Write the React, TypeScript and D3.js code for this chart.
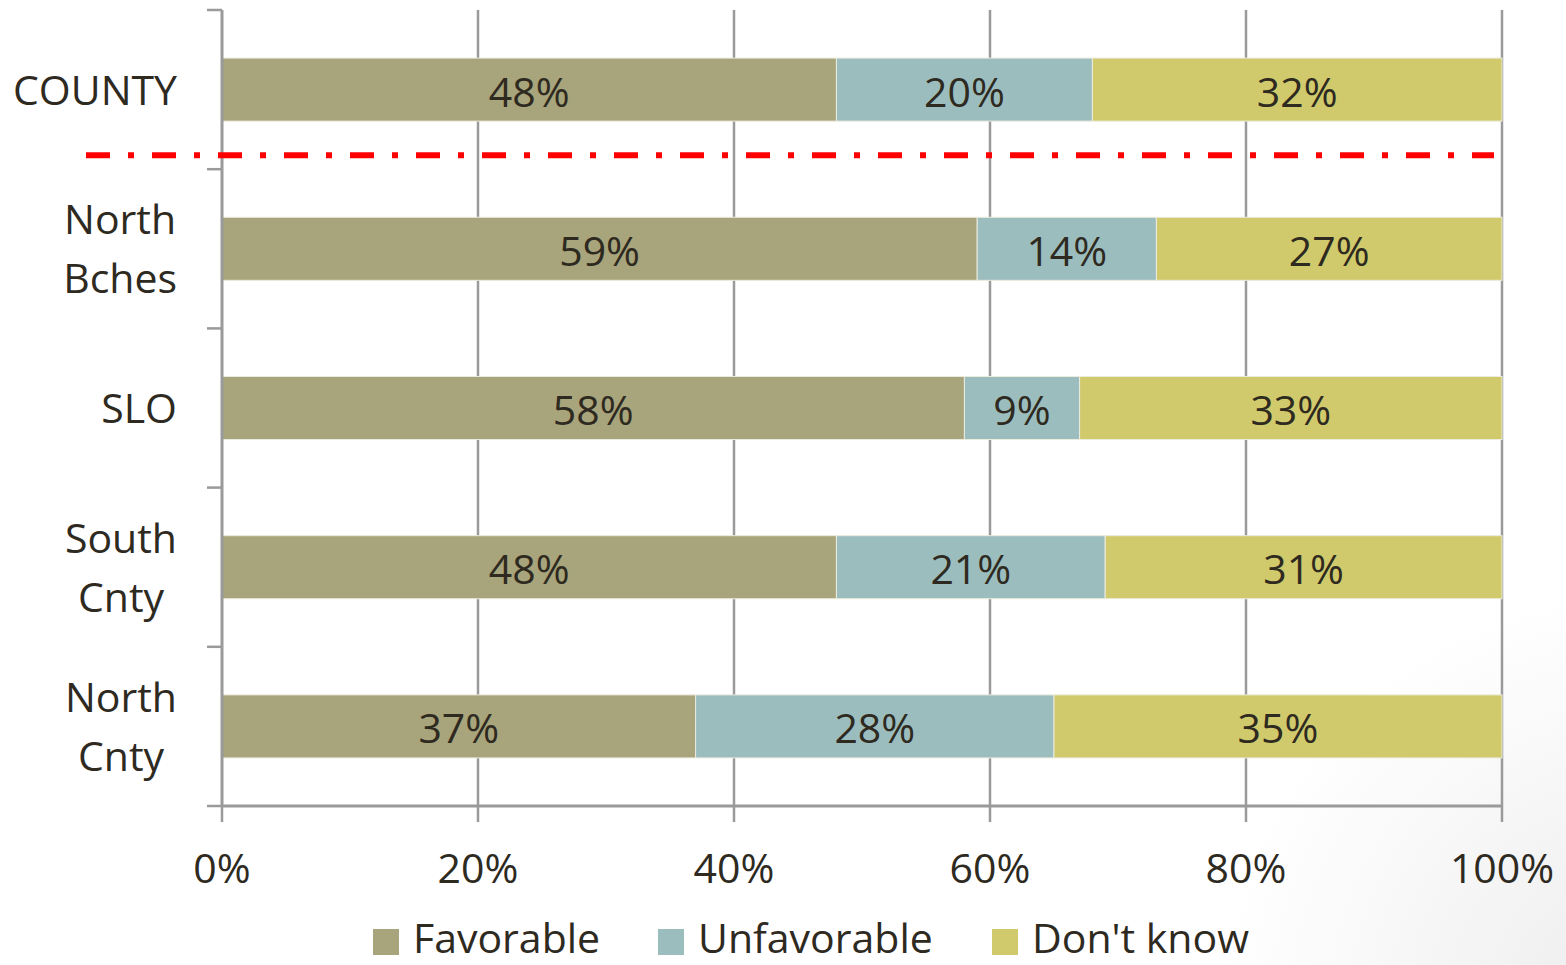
import React, { useEffect, useRef } from "react";
import * as d3 from "d3";

const categories = ["COUNTY", "North\nBches", "SLO", "South\nCnty", "North\nCnty"];
const seriesNames = ["Favorable", "Unfavorable", "Don't know"];
const favorable = [48, 59, 58, 48, 37];
const unfavorable = [20, 14, 9, 21, 28];
const dontKnow = [32, 27, 33, 31, 35];
const xTicks = [0, 20, 40, 60, 80, 100];
const colors = ["#a8a47b", "#9cbdbd", "#d1ca6c"];

const W = 1566;
const H = 965;
const FONT = "'Open Sans', 'Noto Sans', sans-serif";
const TEXT = "#2e2a1f";
const GRID = "#9a9a9a";

export default function App() {
  const ref = useRef<SVGSVGElement | null>(null);

  useEffect(() => {
    document.body.style.margin = "0";
    const svg = d3.select(ref.current);
    svg.selectAll("*").remove();

    const defs = svg.append("defs");
    const rg = defs
      .append("radialGradient")
      .attr("id", "bg")
      .attr("gradientUnits", "userSpaceOnUse")
      .attr("cx", 1640)
      .attr("cy", 1010)
      .attr("r", 420);
    rg.append("stop").attr("offset", "0%").attr("stop-color", "#ececec");
    rg.append("stop").attr("offset", "100%").attr("stop-color", "#ffffff");
    svg.append("rect").attr("width", W).attr("height", H).attr("fill", "url(#bg)");

    const x = d3.scaleLinear().domain([0, 100]).range([222, 1502]);
    const y = d3
      .scaleBand<string>()
      .domain(categories)
      .range([10, 806])
      .paddingInner(0.604)
      .paddingOuter(0.302);
    const step = y.step();

    const rows = categories.map((c, i) => ({
      cat: c,
      vals: [favorable[i], unfavorable[i], dontKnow[i]],
    }));

    // gridlines
    svg
      .append("g")
      .selectAll("line")
      .data(xTicks.slice(1))
      .join("line")
      .attr("x1", (d) => x(d))
      .attr("x2", (d) => x(d))
      .attr("y1", 10)
      .attr("y2", 806)
      .attr("stroke", GRID)
      .attr("stroke-width", 2.5);

    // bars
    const stack = d3
      .stack<any>()
      .keys([0, 1, 2] as any)
      .value((d: any, k: any) => d.vals[k]);
    const series = stack(rows as any);

    series.forEach((s, si) => {
      const g = svg.append("g");
      g.selectAll("rect")
        .data(s)
        .join("rect")
        .attr("x", (d) => x(d[0]))
        .attr("width", (d) => x(d[1]) - x(d[0]))
        .attr("y", (d: any) => y(d.data.cat)!)
        .attr("height", y.bandwidth())
        .attr("fill", colors[si])
        .attr("stroke", "#ecebdf")
        .attr("stroke-width", 1);
      g.selectAll("text")
        .data(s)
        .join("text")
        .attr("x", (d) => (x(d[0]) + x(d[1])) / 2)
        .attr("y", (d: any) => y(d.data.cat)! + y.bandwidth() / 2 + 17)
        .attr("text-anchor", "middle")
        .attr("font-family", FONT)
        .attr("font-size", 41)
        .attr("fill", TEXT)
        .text((d) => `${d[1] - d[0]}%`);
    });

    // y axis
    const ya = svg.append("g");
    ya.append("line")
      .attr("x1", 222)
      .attr("x2", 222)
      .attr("y1", 10)
      .attr("y2", 806)
      .attr("stroke", GRID)
      .attr("stroke-width", 3);
    ya.selectAll("line.tick")
      .data(d3.range(categories.length + 1))
      .join("line")
      .attr("class", "tick")
      .attr("x1", 207)
      .attr("x2", 222)
      .attr("y1", (i) => 10 + i * step)
      .attr("y2", (i) => 10 + i * step)
      .attr("stroke", GRID)
      .attr("stroke-width", 2.5);

    // x axis
    const xa = svg.append("g");
    xa.append("line")
      .attr("x1", 222)
      .attr("x2", 1502)
      .attr("y1", 806)
      .attr("y2", 806)
      .attr("stroke", GRID)
      .attr("stroke-width", 3);
    xa.selectAll("line.tick")
      .data(xTicks)
      .join("line")
      .attr("class", "tick")
      .attr("x1", (d) => x(d))
      .attr("x2", (d) => x(d))
      .attr("y1", 806)
      .attr("y2", 822)
      .attr("stroke", GRID)
      .attr("stroke-width", 2.5);
    xa.selectAll("text")
      .data(xTicks)
      .join("text")
      .attr("x", (d) => x(d))
      .attr("y", 883)
      .attr("text-anchor", "middle")
      .attr("font-family", FONT)
      .attr("font-size", 41)
      .attr("fill", TEXT)
      .text((d) => `${d}%`);

    // category labels
    categories.forEach((c) => {
      const lines = c.split("\n");
      const g = svg.append("g");
      const center = y(c)! + y.bandwidth() / 2;
      const lh = 59;
      const texts = lines.map((ln, i) =>
        g
          .append("text")
          .attr("x", 0)
          .attr("y", center + (i - (lines.length - 1) / 2) * lh + 15)
          .attr("text-anchor", "middle")
          .attr("font-family", FONT)
          .attr("font-size", 41)
          .attr("fill", TEXT)
          .text(ln)
      );
      const maxW = d3.max(texts, (t) => (t.node() as SVGTextElement).getComputedTextLength()) || 0;
      g.attr("transform", `translate(${177 - maxW / 2},0)`);
    });

    // separator between the county total and the regions
    const sepY = y(categories[1])! - step * 0.39;
    svg
      .append("line")
      .attr("x1", 86)
      .attr("x2", 1494)
      .attr("y1", sepY)
      .attr("y2", sepY)
      .attr("stroke", "#ff0000")
      .attr("stroke-width", 6)
      .attr("stroke-dasharray", "24 18 6 18");

    // legend
    const legX = [373, 658, 992];
    const lg = svg.append("g");
    seriesNames.forEach((n, i) => {
      lg.append("rect")
        .attr("x", legX[i])
        .attr("y", 929)
        .attr("width", 26)
        .attr("height", 26)
        .attr("fill", colors[i]);
      lg.append("text")
        .attr("x", legX[i] + 40)
        .attr("y", 953)
        .attr("font-family", FONT)
        .attr("font-size", 41)
        .attr("fill", TEXT)
        .text(n);
    });
  }, []);

  return <svg ref={ref} width={W} height={H} style={{ display: "block" }} />;
}
